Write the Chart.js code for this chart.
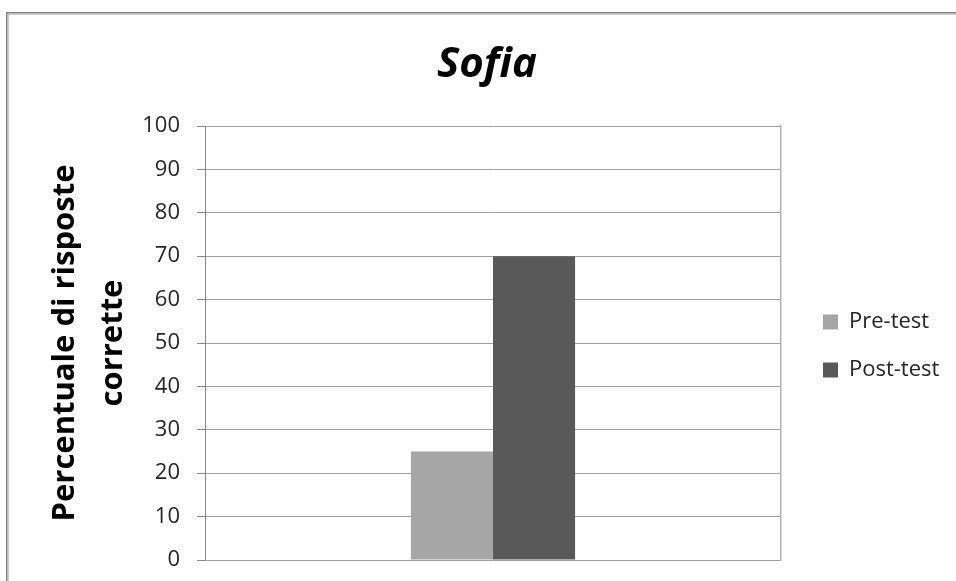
<!DOCTYPE html>
<html lang="it">
<head>
<meta charset="utf-8">
<title>Sofia</title>
<script src="https://cdn.jsdelivr.net/npm/chart.js@4.4.1/dist/chart.umd.min.js"></script>
<style>
  html, body { margin: 0; padding: 0; background: #fff; }
  #wrap { width: 956px; height: 581px; }
</style>
</head>
<body>
<div id="wrap"><canvas id="chart" width="956" height="581"></canvas></div>
<script>
// chart data
const categories = [''];
const seriesLabels = ['Pre-test', 'Post-test'];
const preTest = [25];
const postTest = [70];
const yMin = 0;
const yMax = 100;
const yStep = 10;
const chartTitle = 'Sofia';
const yTitle = ['Percentuale di risposte', 'corrette'];

const FONT = "'Open Sans', 'DejaVu Sans', sans-serif";

// outer frame of the chart object (only top and left edges are on the page)
const framePlugin = {
  id: 'frame',
  beforeDraw(chart) {
    const ctx = chart.ctx;
    ctx.save();
    ctx.fillStyle = '#808080';
    ctx.fillRect(6, 12, chart.width - 6, 1.5);
    ctx.fillRect(6, 12, 1.5, chart.height - 12);
    ctx.fillStyle = '#b8b8b8';
    ctx.fillRect(7.5, 13.5, chart.width - 7.5, 1.2);
    ctx.fillRect(7.5, 13.5, 1.2, chart.height - 13.5);
    ctx.restore();
  }
};

// push the legend a little further right (and down) than labels.padding gives
const legendNudge = {
  id: 'legendNudge',
  afterLayout(chart) {
    chart.legend.left += 16;
    chart.legend.right += 16;
    chart.legend.top += 3;
    chart.legend.bottom += 3;
  }
};

new Chart(document.getElementById('chart'), {
  type: 'bar',
  data: {
    labels: categories,
    datasets: [
      { label: seriesLabels[0], data: preTest, backgroundColor: '#a6a6a6', borderWidth: 0,
        categoryPercentage: 0.285, barPercentage: 1 },
      { label: seriesLabels[1], data: postTest, backgroundColor: '#595959', borderWidth: 0,
        categoryPercentage: 0.285, barPercentage: 1 }
    ]
  },
  options: {
    responsive: false,
    animation: false,
    layout: { padding: { left: 42, right: 24, top: 0, bottom: 21 } },
    plugins: {
      title: {
        display: true,
        text: chartTitle,
        color: '#000',
        font: { family: FONT, size: 42, weight: 'bold', style: 'italic', lineHeight: 1.2 },
        padding: { top: 40, bottom: 35.6 }
      },
      legend: {
        position: 'right',
        fullSize: false,
        maxWidth: 151,
        labels: {
          boxWidth: 15,
          boxHeight: 15,
          padding: 26,
          color: '#262626',
          font: { family: FONT, size: 22 }
        }
      },
      tooltip: { enabled: false }
    },
    scales: {
      x: { display: false },
      y: {
        min: yMin,
        max: yMax,
        // small lineHeight keeps the label overhang from eating into the plot height
        ticks: { stepSize: yStep, padding: 17, color: '#262626', font: { family: FONT, size: 22, lineHeight: 0.3 } },
        grid: { color: '#a0a0a0', tickColor: '#868686', tickLength: 8 },
        border: { color: '#868686', width: 1 },
        title: {
          display: true,
          text: yTitle,
          color: '#000',
          font: { family: FONT, size: 31, weight: 'bold', lineHeight: 1.52 },
          padding: { top: 0, bottom: 0 }
        },
        afterFit(scale) { scale.width = 163; }
      },
      yRight: {
        position: 'right',
        min: yMin,
        max: yMax,
        ticks: { display: false },
        grid: { display: false, drawTicks: false },
        border: { color: '#b4b4b4', width: 1.5 },
        afterFit(scale) { scale.width = 0; }
      }
    }
  },
  plugins: [framePlugin, legendNudge]
});
</script>
</body>
</html>
